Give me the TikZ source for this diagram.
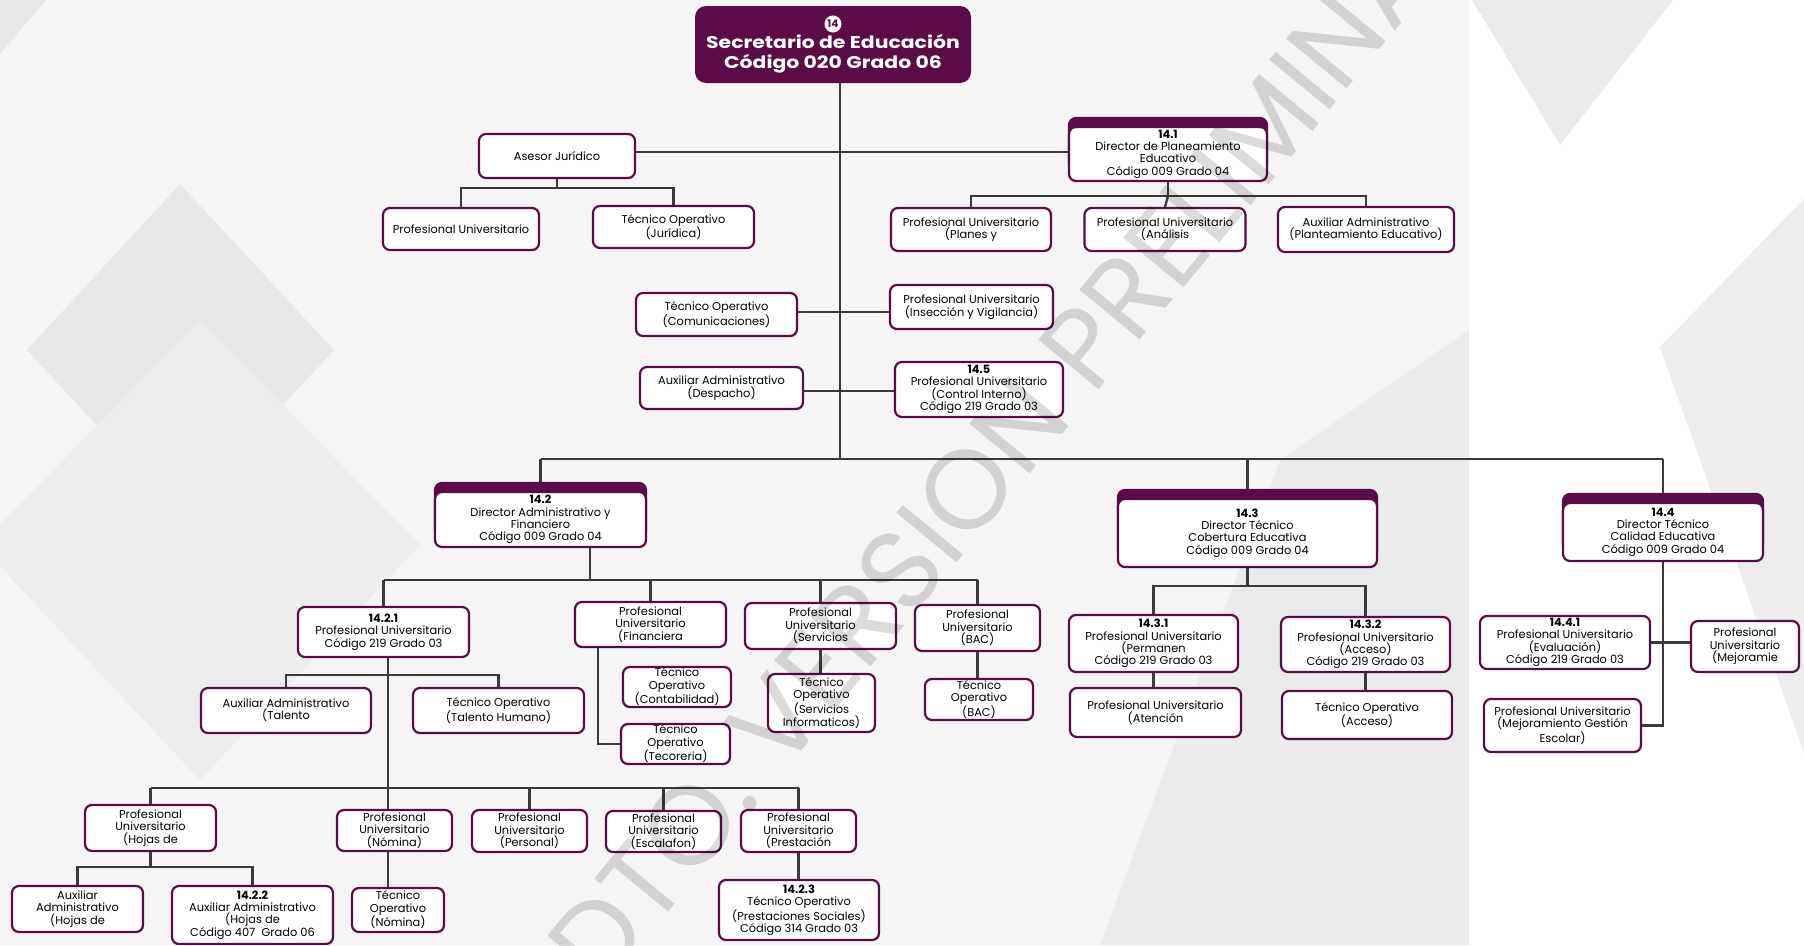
\documentclass[tikz,border=0pt]{standalone}
\usepackage{fontspec}
\setmainfont{Poppins}
\newfontfamily\titulo{Poppins}[FakeStretch=1.2]
\definecolor{ciruela}{HTML}{5B0B48}
\definecolor{linea}{HTML}{3A3A3A}
\pgfdeclarelayer{fondo}
\pgfdeclarelayer{lineas}
\pgfsetlayers{fondo,lineas,main}
\tikzset{
  cargo/.style={
    rectangle, rounded corners=7pt, draw=ciruela, line width=2.2pt, fill=white,
    align=center, inner sep=1pt, font=\fontsize{11.4}{12.4}\selectfont
  },
  wh/.style 2 args={minimum width=#1, minimum height=#2},
  director/.style={
    cargo,
    preaction={fill=ciruela, draw=ciruela, transform canvas={yshift=9pt}}
  },
  jefe/.style={
    rectangle, rounded corners=11pt, fill=ciruela, text=white, align=center,
    font=\titulo\bfseries\fontsize{17}{20}\selectfont
  },
  conector/.style={draw=linea, line width=2.3pt},
}
\begin{document}
\begin{tikzpicture}[x=1pt,y=-1pt]
\useasboundingbox (0,0) rectangle (1804,945);
% background shapes
\begin{pgfonlayer}{fondo}
\fill[white] (0,0) rectangle (1804,945);
\fill[black!4] (0,0) rectangle (1469,945);
\fill[black!9] (0,0) -- (46,0) -- (0,54) -- cycle;
\fill[black!9] (180,184) -- (334,350) -- (180,515) -- (27,350) -- cycle;
\fill[black!7] (200,320) -- (420,545) -- (200,780) -- (-20,545) -- cycle;
\fill[black!8] (1100,945) -- (1469,945) -- (1469,330) -- (1280,460) -- cycle;
\fill[black!8] (1472,0) -- (1673,0) -- (1560,145) -- cycle;
\fill[black!7] (1660,347) -- (1804,199) -- (1804,753) -- cycle;
\end{pgfonlayer}

% the top
\node[jefe, wh={276}{77}] (sec) at (833,44.5)
  {\vphantom{X}\\Secretario de Educación\\Código 020 Grado 06};
\node[circle, fill=white, text=ciruela, inner sep=1.3pt,
  font=\bfseries\fontsize{10.5}{10.5}\selectfont] (num) at (833,24) {14};

% staff of the secretary
\node[cargo, wh={156}{44}] (asesor) at (557,156) {Asesor Jurídico};
\node[cargo, wh={156}{42}] (pjur) at (461,229) {Profesional Universitario};
\node[cargo, wh={161}{42}] (tjur) at (673.5,227) {Técnico Operativo\\(Jurídica)};
\node[cargo, wh={161}{43}] (tcom) at (716.5,314.5) {Técnico Operativo\\(Comunicaciones)};
\node[cargo, wh={163}{44}] (pinsp) at (971.5,307) {Profesional Universitario\\(Insección y Vigilancia)};
\node[cargo, wh={163}{42}] (ades) at (721.5,388) {Auxiliar Administrativo\\(Despacho)};
\node[cargo, wh={168}{55}] (p145) at (979,389.5)
  {\textbf{14.5}\\Profesional Universitario\\(Control Interno)\\Código 219 Grado 03};

% 14.1
\node[director, wh={198}{54}] (d141) at (1168,154)
  {\textbf{14.1}\\Director de Planeamiento\\Educativo\\Código 009 Grado 04};
\node[cargo, wh={160}{43}] (pplan) at (971,229.5) {Profesional Universitario\\(Planes y};
\node[cargo, wh={161}{43}] (panal) at (1165,229.5) {Profesional Universitario\\(Análisis};
\node[cargo, wh={176}{45}] (aplan) at (1366,229.5) {Auxiliar Administrativo\\(Planteamiento Educativo)};

% 14.2
\node[director, wh={211}{55}] (d142) at (540.5,519.5)
  {\textbf{14.2}\\Director Administrativo y\\Financiero\\Código 009 Grado 04};
\node[cargo, wh={171}{50}] (p1421) at (383.5,632)
  {\textbf{14.2.1}\\Profesional Universitario\\Código 219 Grado 03};
\node[cargo, wh={151}{45}] (pfin) at (650.5,624.5) {Profesional\\Universitario\\(Financiera};
\node[cargo, wh={108}{40}] (tcont) at (677,687) {Técnico\\Operativo\\(Contabilidad)};
\node[cargo, wh={109}{38}] (tteco) at (675.5,744) {Técnico\\Operativo\\(Tecoreria)};
\node[cargo, wh={151}{46}] (pserv) at (820.5,626) {Profesional\\Universitario\\(Servicios};
\node[cargo, wh={107}{58}] (tsi) at (821.5,703) {Técnico\\Operativo\\(Servicios\\Informaticos)};
\node[cargo, wh={125}{46}] (pbac) at (977.5,628) {Profesional\\Universitario\\(BAC)};
\node[cargo, wh={108}{41}] (tbac) at (979,699.5) {Técnico\\Operativo\\(BAC)};
\node[cargo, wh={170}{45}] (atal) at (286,710.5) {Auxiliar Administrativo\\(Talento};
\node[cargo, wh={171}{45}] (ttal) at (498.5,710.5) {Técnico Operativo\\(Talento Humano)};
\node[cargo, wh={131}{46}] (phoj) at (150.5,828) {Profesional\\Universitario\\(Hojas de};
\node[cargo, wh={131}{46}] (ahoj) at (77.5,909) {Auxiliar\\Administrativo\\(Hojas de};
\node[cargo, wh={161}{58}] (a1422) at (252.5,915)
  {\textbf{14.2.2}\\Auxiliar Administrativo\\(Hojas de\\Código 407~ Grado 06};
\node[cargo, wh={115}{41}] (pnom) at (394.5,830.5) {Profesional\\Universitario\\(Nómina)};
\node[cargo, wh={92}{44}] (tnom) at (398,910) {Técnico\\Operativo\\(Nómina)};
\node[cargo, wh={115}{42}] (ppers) at (529.5,831) {Profesional\\Universitario\\(Personal)};
\node[cargo, wh={115}{41}] (pesc) at (663.5,831.5) {Profesional\\Universitario\\(Escalafon)};
\node[cargo, wh={115}{42}] (ppres) at (798.5,831) {Profesional\\Universitario\\(Prestación};
\node[cargo, wh={160}{60}] (t1423) at (799,910)
  {\textbf{14.2.3}\\Técnico Operativo\\(Prestaciones Sociales)\\Código 314 Grado 03};

% 14.3
\node[director, wh={259}{68}] (d143) at (1247.5,533)
  {\textbf{14.3}\\Director Técnico\\Cobertura Educativa\\Código 009 Grado 04};
\node[cargo, wh={169}{57}] (p1431) at (1153.5,643.5)
  {\textbf{14.3.1}\\Profesional Universitario\\(Permanen\\Código 219 Grado 03};
\node[cargo, wh={171}{49}] (paten) at (1155.5,712.5) {Profesional Universitario\\(Atención};
\node[cargo, wh={169}{55}] (p1432) at (1365.5,644.5)
  {\textbf{14.3.2}\\Profesional Universitario\\(Acceso)\\Código 219 Grado 03};
\node[cargo, wh={170}{48}] (tacc) at (1367,715) {Técnico Operativo\\(Acceso)};

% 14.4
\node[director, wh={200}{58}] (d144) at (1663,532)
  {\textbf{14.4}\\Director Técnico\\Calidad Educativa\\Código 009 Grado 04};
\node[cargo, wh={170}{53}] (p1441) at (1565,642.5)
  {\textbf{14.4.1}\\Profesional Universitario\\(Evaluación)\\Código 219 Grado 03};
\node[cargo, wh={108}{51}] (pmej) at (1745,646.5) {Profesional\\Universitario\\(Mejoramie};
\node[cargo, wh={157}{53}] (pmejg) at (1562.5,725.5)
  {Profesional Universitario\\(Mejoramiento Gestión\\Escolar)};

% the junctions
\coordinate (jmain) at (840,459);
\coordinate (jase) at (840,152);
\coordinate (jcom) at (840,312);
\coordinate (jdes) at (840,391);
\coordinate (jase2) at (557,188);
\coordinate (j141) at (1168,196);
\coordinate (j142) at (590,580);
\coordinate (jfin) at (598,747);
\coordinate (jtal) at (388,675);
\coordinate (jlow) at (388,788);
\coordinate (jhoj) at (144,867);
\coordinate (j143) at (1249,586);

% the lines
\begin{pgfonlayer}{lineas}
\draw[conector] (sec.south -| jmain) -- (jmain);
\draw[conector] (jase -| asesor.east) -- (jase -| d141.west);
\draw[conector] (jcom -| tcom.east) -- (jcom -| pinsp.west);
\draw[conector] (jdes -| ades.east) -- (jdes -| p145.west);
\draw[conector] (asesor.south) -- (jase2);
\draw[conector] (pjur.north) |- (jase2) -| (tjur.north);
\draw[conector] (d141.south) -- (j141);
\draw[conector] (pplan.north) |- (j141) -| (aplan.north);
\draw[conector] (j141) -- (panal.north);
% main bus
\draw[conector] (d142.north |- jmain) -- (d144.north |- jmain);
\draw[conector] (d142.north |- jmain) -- (d142.north);
\draw[conector] (d143.north |- jmain) -- (d143.north);
\draw[conector] (d144.north |- jmain) -- (d144.north);
% 14.2
\draw[conector] (d142.south -| j142) -- (j142);
\draw[conector] (p1421.north |- j142) -- (pbac.north |- j142);
\draw[conector] (p1421.north |- j142) -- (p1421.north);
\draw[conector] (pfin.north |- j142) -- (pfin.north);
\draw[conector] (pserv.north |- j142) -- (pserv.north);
\draw[conector] (pbac.north |- j142) -- (pbac.north);
\draw[conector] (pfin.south -| jfin) |- (tteco.west);
\draw[conector] (pserv.south) -- (pserv.south |- tsi.north);
\draw[conector] (pbac.south) -- (pbac.south |- tbac.north);
\draw[conector] (p1421.south -| jtal) -- (tnom.north -| jtal);
\draw[conector] (atal.north) |- (jtal) -| (ttal.north);
\draw[conector] (phoj.north |- jlow) -- (ppres.north |- jlow);
\draw[conector] (phoj.north |- jlow) -- (phoj.north);
\draw[conector] (ppers.north |- jlow) -- (ppers.north);
\draw[conector] (pesc.north |- jlow) -- (pesc.north);
\draw[conector] (ppres.north |- jlow) -- (ppres.north);
\draw[conector] (phoj.south) -- (phoj.south |- jhoj);
\draw[conector] (ahoj.north) |- (jhoj) -| (a1422.north);
\draw[conector] (ppres.south) -- (ppres.south |- t1423.north);
% 14.3
\draw[conector] (d143.south) -- (d143.south |- j143);
\draw[conector] (p1431.north) |- (j143) -| (p1432.north);
\draw[conector] (p1431.south) -- (p1431.south |- paten.north);
\draw[conector] (p1432.south) -- (p1432.south |- tacc.north);
% 14.4
\draw[conector] (d144.south) |- (pmejg.east);
\draw[conector] (p1441.east) -- (p1441.east -| pmej.west);
\end{pgfonlayer}

% watermark
\begin{scope}
\clip (0,0) rectangle (1804,945);
\node[text=black, opacity=0.14, anchor=west, rotate=50.5, inner sep=0pt,
  font=\fontsize{112}{112}\selectfont] (marca) at (572,968) {DTO. VERSION PRELIMINAR};
\end{scope}
\end{tikzpicture}
\end{document}
